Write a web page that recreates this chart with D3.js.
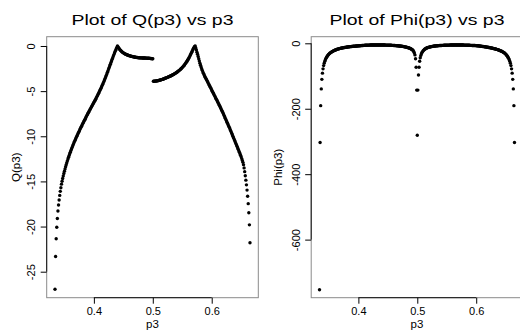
<!DOCTYPE html>
<html lang="en">
<head>
    <meta charset="UTF-8" />
    <title>Plot of Q(p3) and Phi(p3) vs p3</title>
    <script src="https://d3js.org/d3.v7.min.js"></script>
    <style>
        body { margin: 0; background: #fff; }
        svg { display: block; font-family: "Liberation Sans", Arial, sans-serif; }
    </style>
</head>
<body>
    <div id="chart"></div>
    <script>
        // p3 grid (same for both plots)
        const p3 = [
            0.334, 0.335, 0.336, 0.337, 0.338, 0.339, 0.340, 0.341, 0.342, 0.343,
            0.344, 0.345, 0.346, 0.347, 0.348, 0.349, 0.350, 0.351, 0.352, 0.353,
            0.354, 0.355, 0.356, 0.357, 0.358, 0.359, 0.360, 0.361, 0.362, 0.363,
            0.364, 0.365, 0.366, 0.367, 0.368, 0.369, 0.370, 0.371, 0.372, 0.373,
            0.374, 0.375, 0.376, 0.377, 0.378, 0.379, 0.380, 0.381, 0.382, 0.383,
            0.384, 0.385, 0.386, 0.387, 0.388, 0.389, 0.390, 0.391, 0.392, 0.393,
            0.394, 0.395, 0.396, 0.397, 0.398, 0.399, 0.400, 0.401, 0.402, 0.403,
            0.404, 0.405, 0.406, 0.407, 0.408, 0.409, 0.410, 0.411, 0.412, 0.413,
            0.414, 0.415, 0.416, 0.417, 0.418, 0.419, 0.420, 0.421, 0.422, 0.423,
            0.424, 0.425, 0.426, 0.427, 0.428, 0.429, 0.430, 0.431, 0.432, 0.433,
            0.434, 0.435, 0.436, 0.437, 0.438, 0.439, 0.440, 0.441, 0.442, 0.443,
            0.444, 0.445, 0.446, 0.447, 0.448, 0.449, 0.450, 0.451, 0.452, 0.453,
            0.454, 0.455, 0.456, 0.457, 0.458, 0.459, 0.460, 0.461, 0.462, 0.463,
            0.464, 0.465, 0.466, 0.467, 0.468, 0.469, 0.470, 0.471, 0.472, 0.473,
            0.474, 0.475, 0.476, 0.477, 0.478, 0.479, 0.480, 0.481, 0.482, 0.483,
            0.484, 0.485, 0.486, 0.487, 0.488, 0.489, 0.490, 0.491, 0.492, 0.493,
            0.494, 0.495, 0.496, 0.497, 0.498, 0.499, 0.500, 0.501, 0.502, 0.503,
            0.504, 0.505, 0.506, 0.507, 0.508, 0.509, 0.510, 0.511, 0.512, 0.513,
            0.514, 0.515, 0.516, 0.517, 0.518, 0.519, 0.520, 0.521, 0.522, 0.523,
            0.524, 0.525, 0.526, 0.527, 0.528, 0.529, 0.530, 0.531, 0.532, 0.533,
            0.534, 0.535, 0.536, 0.537, 0.538, 0.539, 0.540, 0.541, 0.542, 0.543,
            0.544, 0.545, 0.546, 0.547, 0.548, 0.549, 0.550, 0.551, 0.552, 0.553,
            0.554, 0.555, 0.556, 0.557, 0.558, 0.559, 0.560, 0.561, 0.562, 0.563,
            0.564, 0.565, 0.566, 0.567, 0.568, 0.569, 0.570, 0.571, 0.572, 0.573,
            0.574, 0.575, 0.576, 0.577, 0.578, 0.579, 0.580, 0.581, 0.582, 0.583,
            0.584, 0.585, 0.586, 0.587, 0.588, 0.589, 0.590, 0.591, 0.592, 0.593,
            0.594, 0.595, 0.596, 0.597, 0.598, 0.599, 0.600, 0.601, 0.602, 0.603,
            0.604, 0.605, 0.606, 0.607, 0.608, 0.609, 0.610, 0.611, 0.612, 0.613,
            0.614, 0.615, 0.616, 0.617, 0.618, 0.619, 0.620, 0.621, 0.622, 0.623,
            0.624, 0.625, 0.626, 0.627, 0.628, 0.629, 0.630, 0.631, 0.632, 0.633,
            0.634, 0.635, 0.636, 0.637, 0.638, 0.639, 0.640, 0.641, 0.642, 0.643,
            0.644, 0.645, 0.646, 0.647, 0.648, 0.649, 0.650, 0.651, 0.652, 0.653,
            0.654, 0.655, 0.656, 0.657, 0.658, 0.659, 0.660, 0.661, 0.662, 0.663,
            0.664, 0.665
        ]

        // Q(p3)
        const qValues = [
            -26.95, -23.32, -21.35, -20.08, -19.10, -18.28, -17.62, -17.05, -16.55, -16.10,
            -15.70, -15.30, -14.98, -14.68, -14.40, -14.13, -13.87, -13.62, -13.38, -13.15,
            -12.93, -12.72, -12.52, -12.32, -12.13, -11.94, -11.76, -11.58, -11.41, -11.24,
            -11.07, -10.91, -10.75, -10.59, -10.44, -10.29, -10.14, -9.99, -9.85, -9.71,
            -9.57, -9.43, -9.29, -9.15, -9.01, -8.88, -8.75, -8.62, -8.49, -8.36,
            -8.23, -8.10, -7.97, -7.84, -7.71, -7.58, -7.45, -7.33, -7.21, -7.09,
            -6.97, -6.85, -6.73, -6.61, -6.49, -6.37, -6.25, -6.13, -6.01, -5.89,
            -5.76, -5.63, -5.50, -5.37, -5.24, -5.10, -4.96, -4.82, -4.68, -4.53,
            -4.38, -4.23, -4.08, -3.92, -3.76, -3.60, -3.43, -3.26, -3.09, -2.91,
            -2.73, -2.55, -2.37, -2.19, -2.01, -1.83, -1.65, -1.47, -1.29, -1.12,
            -0.95, -0.78, -0.62, -0.46, -0.30, -0.15, 0.00, -0.10, -0.20, -0.29,
            -0.38, -0.46, -0.53, -0.60, -0.66, -0.71, -0.76, -0.80, -0.84, -0.88,
            -0.91, -0.94, -0.97, -1.00, -1.03, -1.05, -1.07, -1.09, -1.11, -1.13,
            -1.15, -1.17, -1.18, -1.20, -1.21, -1.22, -1.24, -1.25, -1.26, -1.27,
            -1.28, -1.29, -1.30, -1.30, -1.31, -1.31, -1.32, -1.32, -1.32, -1.33,
            -1.33, -1.33, -1.33, -1.33, -1.34, -1.34, -1.34, -1.35, -1.35, -1.36,
            -1.36, -1.37, -1.38, -1.39, -1.40, -1.41, -1.42, -3.90, -3.90, -3.89,
            -3.89, -3.88, -3.87, -3.86, -3.85, -3.84, -3.82, -3.80, -3.78, -3.76,
            -3.74, -3.72, -3.70, -3.68, -3.65, -3.63, -3.60, -3.58, -3.55, -3.53,
            -3.50, -3.47, -3.44, -3.41, -3.38, -3.35, -3.32, -3.29, -3.26, -3.22,
            -3.19, -3.15, -3.11, -3.07, -3.03, -2.99, -2.95, -2.90, -2.85, -2.80,
            -2.75, -2.70, -2.64, -2.58, -2.52, -2.45, -2.38, -2.31, -2.23, -2.15,
            -2.07, -1.98, -1.89, -1.79, -1.69, -1.58, -1.47, -1.35, -1.23, -1.10,
            -0.97, -0.84, -0.70, -0.56, -0.42, -0.28, -0.15, -0.05, 0.00, -0.22,
            -0.45, -0.68, -0.92, -1.16, -1.41, -1.66, -1.90, -2.12, -2.33, -2.52,
            -2.70, -2.87, -3.03, -3.18, -3.32, -3.45, -3.57, -3.70, -3.83, -3.96,
            -4.09, -4.22, -4.35, -4.48, -4.61, -4.74, -4.87, -5.00, -5.13, -5.26,
            -5.39, -5.52, -5.65, -5.78, -5.91, -6.04, -6.17, -6.30, -6.43, -6.56,
            -6.70, -6.84, -6.98, -7.12, -7.26, -7.40, -7.54, -7.69, -7.84, -7.99,
            -8.14, -8.29, -8.44, -8.59, -8.74, -8.89, -9.04, -9.19, -9.35, -9.51,
            -9.67, -9.83, -9.99, -10.15, -10.31, -10.47, -10.63, -10.79, -10.95, -11.11,
            -11.27, -11.43, -11.59, -11.76, -11.93, -12.10, -12.28, -12.47, -12.67, -12.89,
            -13.14, -13.50, -13.92, -14.38, -14.86, -15.38, -15.96, -16.65, -17.46, -18.47,
            -19.81, -21.79
        ]

        // Phi(p3)
        const phiValues = [
            -753, -303, -190.5, -139.4, -110.1, -91.2, -78.0, -68.2, -60.7, -54.7,
            -49.9, -45.9, -42.5, -39.6, -37.1, -34.9, -33.0, -31.3, -29.8, -28.4,
            -27.1, -25.9, -24.8, -23.8, -22.8, -21.9, -21.1, -20.3, -19.6, -18.9,
            -18.3, -17.7, -17.1, -16.6, -16.1, -15.6, -15.2, -14.8, -14.4, -14.0,
            -13.6, -13.25, -12.9, -12.6, -12.3, -12.0, -11.7, -11.45, -11.2, -10.95,
            -10.7, -10.45, -10.2, -10.0, -9.8, -9.6, -9.4, -9.2, -9.0, -8.85,
            -8.7, -8.55, -8.4, -8.25, -8.1, -7.95, -7.8, -7.65, -7.5, -7.35,
            -7.2, -7.05, -6.9, -6.75, -6.6, -6.45, -6.3, -6.15, -6.0, -5.9,
            -5.8, -5.7, -5.6, -5.5, -5.45, -5.4, -5.35, -5.3, -5.25, -5.2,
            -5.2, -5.15, -5.1, -5.1, -5.05, -5.05, -5.0, -5.0, -5.0, -5.0,
            -5.0, -5.0, -5.0, -5.05, -5.05, -5.1, -5.1, -5.15, -5.2, -5.25,
            -5.3, -5.35, -5.4, -5.45, -5.5, -5.55, -5.6, -5.65, -5.7, -5.8,
            -5.9, -6.0, -6.1, -6.2, -6.3, -6.4, -6.5, -6.65, -6.8, -6.95,
            -7.1, -7.25, -7.4, -7.6, -7.8, -8.0, -8.2, -8.45, -8.7, -8.95,
            -9.2, -9.5, -9.8, -10.1, -10.45, -10.8, -11.2, -11.6, -12.1, -12.6,
            -13.1, -13.7, -14.4, -15.1, -15.9, -16.8, -17.8, -19.0, -20.4, -22.1,
            -25.5, -29.5, -35.5, -47, -73, -143, -281, -143, -97, -73,
            -55, -44, -37, -32, -28.3, -25.3, -22.8, -20.7, -19.0, -17.6,
            -16.4, -15.3, -14.4, -13.6, -12.9, -12.3, -11.7, -11.2, -10.8, -10.4,
            -10.0, -9.65, -9.3, -9.0, -8.7, -8.45, -8.2, -8.0, -7.8, -7.6,
            -7.45, -7.3, -7.15, -7.0, -6.85, -6.7, -6.6, -6.5, -6.4, -6.3,
            -6.2, -6.1, -6.0, -5.9, -5.8, -5.7, -5.65, -5.6, -5.55, -5.5,
            -5.45, -5.4, -5.35, -5.3, -5.25, -5.2, -5.2, -5.15, -5.15, -5.1,
            -5.1, -5.1, -5.1, -5.1, -5.1, -5.1, -5.1, -5.15, -5.15, -5.2,
            -5.2, -5.25, -5.3, -5.3, -5.35, -5.4, -5.45, -5.5, -5.55, -5.6,
            -5.65, -5.7, -5.8, -5.9, -6.0, -6.1, -6.2, -6.3, -6.4, -6.5,
            -6.55, -6.6, -6.7, -6.8, -6.9, -7.0, -7.15, -7.3, -7.45, -7.6,
            -7.8, -8.05, -8.3, -8.55, -8.8, -9.05, -9.3, -9.55, -9.8, -10.1,
            -10.4, -10.7, -11.0, -11.3, -11.6, -11.9, -12.25, -12.6, -12.95, -13.3,
            -13.65, -14.05, -14.45, -14.85, -15.25, -15.7, -16.15, -16.6, -17.1, -17.6,
            -18.1, -18.65, -19.2, -19.8, -20.4, -21.05, -21.75, -22.5, -23.3, -24.1,
            -25.1, -26.1, -27.2, -28.4, -29.8, -31.3, -33.0, -34.9, -37.1, -39.6,
            -42.5, -45.9, -49.9, -54.7, -60.7, -68.2, -78.0, -91.2, -110.1, -139.4,
            -190.5, -303
        ]

        const p3Ticks = [0.4, 0.5, 0.6]
        const qTicks = [0, -5, -10, -15, -20, -25]
        const phiTicks = [0, -200, -400, -600]

        const width = 520
        const height = 331
        const plotTop = 36.7
        const plotBottom = 297.7

        const svg = d3.select("#chart").append("svg")
            .attr("width", width)
            .attr("height", height)

        drawPanel({
            left: 46.7, right: 258.3,
            values: qValues, yDomain: [-27.88, 1.03], yTicks: qTicks,
            title: "Plot of Q(p3) vs p3", titleWidth: 162,
            yLabel: "Q(p3)", tickLabelOffset: 11.7, yLabelOffset: 27
        })

        drawPanel({
            left: 311.2, right: 522.8,
            values: phiValues, yDomain: [-777.5, 20.2], yTicks: phiTicks,
            title: "Plot of Phi(p3) vs p3", titleWidth: 175,
            yLabel: "Phi(p3)", tickLabelOffset: 11.7, yLabelOffset: 29
        })

        function drawPanel(cfg) {
            const x = d3.scaleLinear()
                .domain([0.3199, 0.6791])
                .range([cfg.left, cfg.right])

            const y = d3.scaleLinear()
                .domain(cfg.yDomain)
                .range([plotBottom, plotTop])

            const g = svg.append("g")

            // frame
            g.append("rect")
                .attr("x", cfg.left)
                .attr("y", plotTop)
                .attr("width", cfg.right - cfg.left)
                .attr("height", plotBottom - plotTop)
                .attr("fill", "none")
                .attr("stroke", "#8a8a8a")

            // points
            g.append("g")
                .selectAll("circle")
                .data(p3)
                .join("circle")
                .attr("cx", d => x(d))
                .attr("cy", (d, i) => y(cfg.values[i]))
                .attr("r", 1.7)
                .attr("fill", "#000")

            // x axis
            g.append("g")
                .attr("transform", `translate(0,${plotBottom})`)
                .call(d3.axisBottom(x).tickValues(p3Ticks).tickSize(6).tickPadding(3.5).tickFormat(d3.format(".1f")))
                .attr("font-size", 11)
                .attr("font-family", null)
                .call(g => g.select(".domain").remove())
                .call(g => g.append("line")
                    .attr("x1", x(p3Ticks[0]))
                    .attr("x2", x(p3Ticks[p3Ticks.length - 1]))
                    .attr("stroke", "#111"))

            // y axis, labels parallel to the axis
            g.append("g")
                .attr("transform", `translate(${cfg.left},0)`)
                .call(d3.axisLeft(y).tickValues(cfg.yTicks).tickSize(6).tickFormat(d => String(d)))
                .attr("font-size", 11)
                .attr("font-family", null)
                .call(g => g.select(".domain").remove())
                .call(g => g.append("line")
                    .attr("y1", y(cfg.yTicks[0]))
                    .attr("y2", y(cfg.yTicks[cfg.yTicks.length - 1]))
                    .attr("stroke", "#111"))
                .call(g => g.selectAll(".tick text")
                    .attr("transform", "rotate(-90)")
                    .attr("x", 0)
                    .attr("y", -cfg.tickLabelOffset)
                    .attr("dy", null)
                    .attr("text-anchor", "middle"))

            const cx = (cfg.left + cfg.right) / 2

            // title
            g.append("text")
                .attr("x", cx)
                .attr("y", 24.5)
                .attr("text-anchor", "middle")
                .attr("font-size", 15.5)
                .attr("textLength", cfg.titleWidth)
                .attr("lengthAdjust", "spacingAndGlyphs")
                .text(cfg.title)

            // axis titles
            g.append("text")
                .attr("x", cx)
                .attr("y", 327.5)
                .attr("text-anchor", "middle")
                .attr("font-size", 11.5)
                .text("p3")

            g.append("text")
                .attr("transform", `translate(${cfg.left - cfg.yLabelOffset},${(plotTop + plotBottom) / 2}) rotate(-90)`)
                .attr("text-anchor", "middle")
                .attr("font-size", 11.5)
                .text(cfg.yLabel)
        }
    </script>
</body>
</html>
